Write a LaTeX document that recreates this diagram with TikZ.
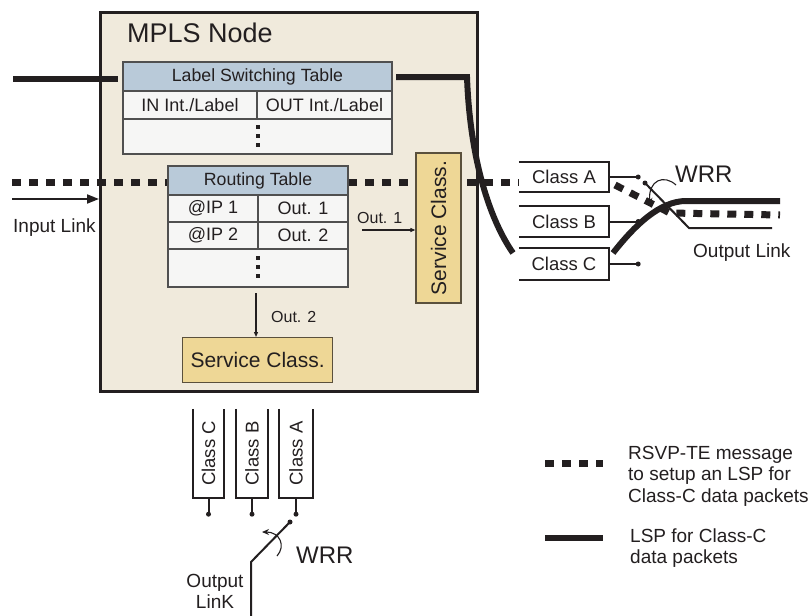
\documentclass[tikz,border=0pt]{standalone}
\usepackage{fontspec}
\setmainfont{Liberation Sans}
\usetikzlibrary{arrows.meta}
\definecolor{ink}{RGB}{35,31,32}
\definecolor{nodebg}{RGB}{240,234,220}
\definecolor{hdr}{RGB}{185,202,217}
\definecolor{rowbg}{RGB}{246,246,245}
\definecolor{svc}{RGB}{238,215,150}
\definecolor{cellline}{RGB}{80,80,80}
\definecolor{svcline}{RGB}{90,80,60}
\newcommand\fsz[1]{\fontsize{#1}{#1}\selectfont}
\begin{document}
\begin{tikzpicture}[x=1pt,y=-1pt,
  cell/.style={draw=cellline, line width=1.2pt, anchor=north west, inner sep=0pt, outer sep=0pt, font=\fsz{18}, text=ink},
  hcell/.style={cell, fill=hdr, font=\fsz{17.7}},
  rcell/.style={cell, fill=rowbg},
  svcbox/.style={draw=svcline, line width=1.3pt, fill=svc, inner sep=0pt, font=\fsz{21}, text=ink},
  lsp/.style={draw=ink, line width=6pt},
  rsvp/.style={draw=ink, line width=7pt, dash pattern=on 9pt off 8pt},
  lead/.style={draw=ink, line width=2pt},
  queue/.style={inner sep=0pt, font=\fsz{18.5}, text=ink},
  qline/.style={draw=ink, line width=2pt},
  lbl/.style={inner sep=0pt, text=ink, font=\fsz{19}},
  dotn/.style={circle, fill=ink, inner sep=0pt, minimum size=5pt},
  vdot/.style={fill=ink, inner sep=0pt, minimum size=3.6pt}
]
\useasboundingbox (0,0) rectangle (812,616);
\fill[white] (0,0) rectangle (812,616);

% MPLS node box
\node[draw=ink, line width=2.5pt, fill=nodebg, anchor=north west, minimum width=377pt, minimum height=379pt, inner sep=0pt] (mpls) at (99,11) {};
\node[lbl, font=\fsz{27}, anchor=base west] (mplst) at (127,42) {MPLS Node};

% coordinates for link ends
\coordinate (lspin) at (13,79);
\coordinate (lspinend) at (118,79);
\coordinate (rsvpin) at (12,182);
\coordinate (rsvpinend) at (168,182);
\coordinate (inA) at (12,199);
\coordinate (lspturn) at (467,77);

% input thick lines
\draw[lsp] (lspin) -- (lspinend);
\draw[rsvp] (rsvpin) -- (rsvpinend);
\draw[rsvp] (348,182) -- (519,182);

% Input link arrow
\draw[draw=ink, line width=2pt, -{Triangle[length=12pt,width=9pt]}] (inA) -- (mpls.west |- inA);
\node[lbl, anchor=base west] (inlink) at (13,232) {Input Link};

% Label switching table
\node[hcell, minimum width=269pt, minimum height=29pt] (lsth) at (123,62) {Label Switching Table};
\node[rcell, minimum width=134pt, minimum height=28pt] (lsin) at (123,91) {IN Int./Label};
\node[rcell, minimum width=135pt, minimum height=28pt] (lsout) at (257,91) {OUT Int./Label};
\node[rcell, minimum width=269pt, minimum height=35pt] (lsrest) at (123,119) {};
\node[vdot] (lsd1) at (258,127) {};
\node[vdot] (lsd2) at (258,136) {};
\node[vdot] (lsd3) at (258,145) {};

% Routing table
\node[hcell, minimum width=180pt, minimum height=29pt] (rth) at (168,166) {Routing Table};
\node[rcell, minimum width=90pt, minimum height=27pt] (ip1) at (168,195) {@IP 1};
\node[rcell, minimum width=90pt, minimum height=27pt] (o1) at (258,195) {Out. 1};
\node[rcell, minimum width=90pt, minimum height=27pt] (ip2) at (168,222) {@IP 2};
\node[rcell, minimum width=90pt, minimum height=27pt] (o2) at (258,222) {Out. 2};
\node[rcell, minimum width=180pt, minimum height=38pt] (rtrest) at (168,249) {};
\node[vdot] (rtd1) at (258,258) {};
\node[vdot] (rtd2) at (258,267) {};
\node[vdot] (rtd3) at (258,276) {};

% Service class boxes
\node[svcbox, anchor=north west, minimum width=150pt, minimum height=45pt] (svcb) at (182,337) {Service Class.};
\node[svcbox, rotate=90, minimum width=150pt, minimum height=45pt] (svcr) at (438.5,228) {Service Class.};

% Out arrows
\draw[draw=ink, line width=1.1pt, -{Triangle[length=5pt,width=4pt]}] (362,230) -- (svcr.north |- 0,230);
\node[lbl, font=\fsz{16}, anchor=base west] (out1) at (357,223) {Out. 1};
\draw[draw=ink, line width=1.1pt, -{Triangle[length=5pt,width=4pt]}] (256,293) -- (svcb.north -| 256,0);
\node[lbl, font=\fsz{16}, anchor=base west] (out2) at (271,322) {Out. 2};

% right queues
\node[queue, minimum width=90pt, minimum height=30pt] (qA) at (564,177) {Class A};
\node[queue, minimum width=90pt, minimum height=31pt] (qB) at (564,221.5) {Class B};
\node[queue, minimum width=90pt, minimum height=32pt] (qC) at (564,264) {Class C};
\foreach \q in {qA,qB,qC}{
  \draw[qline] (\q.north west) -- (\q.north east) -- (\q.south east) -- (\q.south west);
  \draw[lead] (\q.east) -- ++(29,0) node[dotn] {};
}

% thick LSP to class C
\draw[lsp] (396,77) -- (lspturn) .. controls (470,160) and (490,220) .. (513,253);

% right switch
\node[dotn] (swR) at (645,183) {};
\coordinate (swRk) at (689,228);
\coordinate (outRend) at (772,228);
\draw[lead] (swR.center) -- (swRk) -- (outRend);

% output RSVP dotted
\draw[rsvp] (615,185) -- (670,213) -- (780,215);
% output LSP
\draw[lsp] (613,253) .. controls (635,225) and (660,201) .. (686,201) -- (780,201);

% WRR right
\draw[draw=ink, line width=1.1pt, -{Stealth[length=7pt,width=6pt]}] (676,185) .. controls (664,174) and (648,180) .. (650,205);
\node[lbl, font=\fsz{24}, anchor=base west] (wrrR) at (675,182) {WRR};
\node[lbl, anchor=base west] (outlinkR) at (693,257) {Output Link};

% bottom queues
\node[queue, rotate=90, minimum width=89pt, minimum height=31pt] (bC) at (208.5,453.5) {Class C};
\node[queue, rotate=90, minimum width=89pt, minimum height=32pt] (bB) at (252,453.5) {Class B};
\node[queue, rotate=90, minimum width=89pt, minimum height=34pt] (bA) at (296,453.5) {Class A};
\foreach \q in {bC,bB,bA}{
  \draw[qline] (\q.north east) -- (\q.north west) -- (\q.south west) -- (\q.south east);
  \draw[lead] (\q.west) -- ++(0,16) node[dotn] {};
}

% bottom switch
\node[dotn] (swB) at (290,522) {};
\coordinate (swBk) at (251,562);
\coordinate (outBend) at (251,616);
\draw[lead] (swB.center) -- (swBk) -- (outBend);
\draw[draw=ink, line width=1.1pt, -{Stealth[length=7pt,width=6pt]}] (277,556) .. controls (286,546) and (280,532) .. (262,532);
\node[lbl, font=\fsz{24}, anchor=base west] (wrrB) at (296,563) {WRR};
\node[lbl, align=center, font=\fontsize{19}{21}\selectfont] (outlinkB) at (215,591) {Output\\LinK};

% legend
\draw[rsvp] (545,463) -- (603,463);
\node[lbl, align=left, anchor=west, font=\fontsize{19}{21.5}\selectfont] (legR) at (628,476) {RSVP-TE message\\to setup an LSP for\\Class-C data packets};
\draw[lsp] (545,538) -- (603,538);
\node[lbl, align=left, anchor=west, font=\fontsize{19}{21.5}\selectfont] (legL) at (630,548) {LSP for Class-C\\data packets};
\end{tikzpicture}
\end{document}
